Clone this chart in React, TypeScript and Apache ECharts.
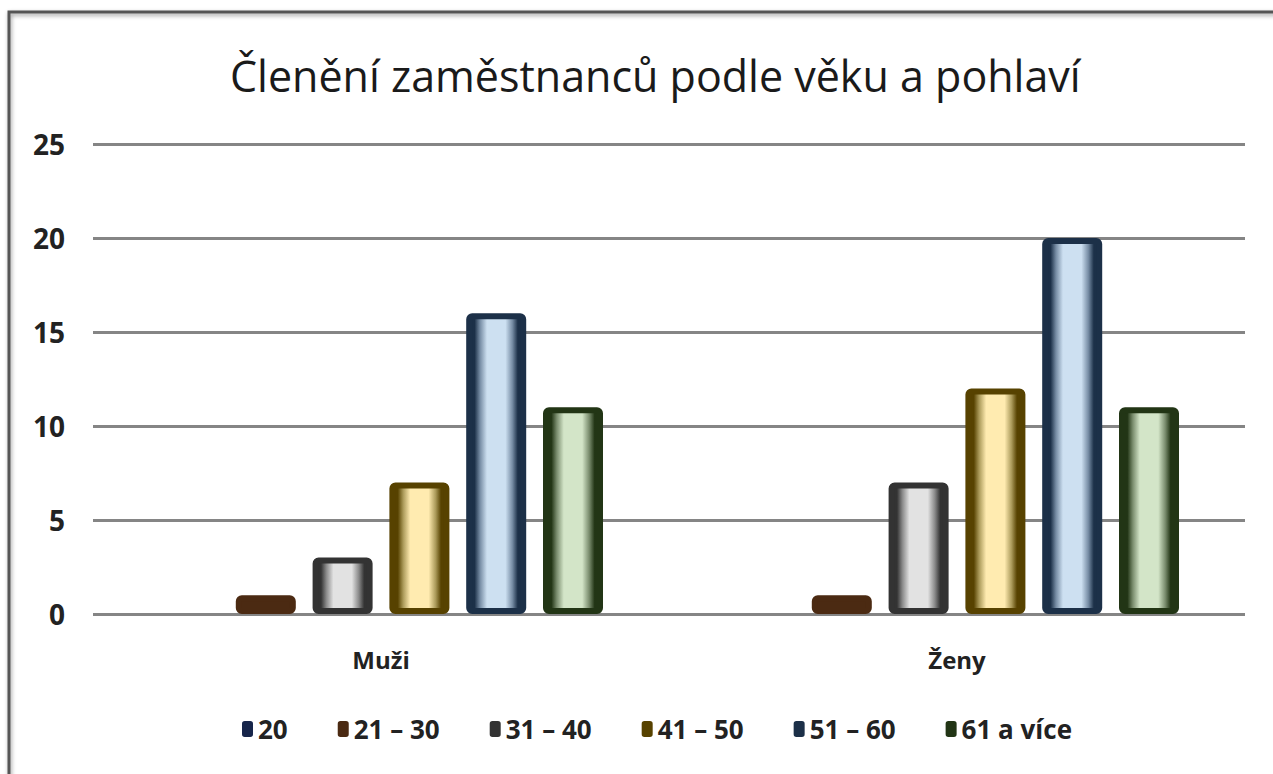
import React, { useEffect, useRef } from "react";
import * as echarts from "echarts";

const titleText = "Členění zaměstnanců podle věku a pohlaví";
const categories = ["Muži", "Ženy"];
const seriesNames = ["20", "21 – 30", "31 – 40", "41 – 50", "51 – 60", "61 a více"];
const values20 = [0, 0];
const values21_30 = [1, 1];
const values31_40 = [3, 7];
const values41_50 = [7, 12];
const values51_60 = [16, 20];
const values61 = [11, 11];
const seriesValues = [values20, values21_30, values31_40, values41_50, values51_60, values61];
const darkColors = ["#17254a", "#4b2a12", "#333333", "#574200", "#1c3048", "#223515"];
const midColors = ["#7080a0", "#4b2a12", "#8a8a8a", "#ab9a5a", "#768ca4", "#7a8d6e"];
const lightColors = ["#c9d4ea", "#4b2a12", "#e2e2e2", "#ffebb0", "#cde0f1", "#d3e5c8"];

export default function App() {
  const ref = useRef<HTMLDivElement>(null);
  useEffect(() => {
    if (!ref.current) return;
    const chart = echarts.init(ref.current, null, { renderer: "svg" });
    const font = "'Open Sans', 'Noto Sans', sans-serif";
    const series = seriesNames.map((name, i) => ({
      name,
      type: "bar",
      barWidth: 60,
      barGap: "28%",
      itemStyle: {
        color: new echarts.graphic.LinearGradient(0, 0, 1, 0, [
          { offset: 0, color: darkColors[i] },
          { offset: 0.1, color: darkColors[i] },
          { offset: 0.2, color: midColors[i] },
          { offset: 0.33, color: lightColors[i] },
          { offset: 0.67, color: lightColors[i] },
          { offset: 0.8, color: midColors[i] },
          { offset: 0.9, color: darkColors[i] },
          { offset: 1, color: darkColors[i] },
        ]),
        borderColor: darkColors[i],
        borderWidth: 6,
        borderRadius: 3,
      },
      data: seriesValues[i].map((v) =>
        v === 0 ? { value: v, itemStyle: { borderWidth: 0 } } : v
      ),
    }));
    chart.setOption({
      animation: false,
      backgroundColor: "#ffffff",
      title: {
        text: titleText,
        left: 225,
        top: 49,
        textStyle: { fontFamily: font, fontSize: 43, fontWeight: "normal", color: "#1a1a1a" },
      },
      legend: {
        bottom: 27,
        left: 237,
        itemWidth: 11,
        itemHeight: 16,
        itemGap: 50,
        icon: "roundRect",
        data: seriesNames.map((n, i) => ({ name: n, itemStyle: { color: darkColors[i], borderWidth: 0 } })),
        textStyle: { fontFamily: font, fontSize: 26, fontWeight: "bold", color: "#222" },
      },
      grid: { left: 93, right: 28, top: 144, bottom: 160, containLabel: false },
      xAxis: {
        type: "category",
        data: categories,
        axisLine: { show: false },
        axisTick: { show: false },
        axisLabel: { margin: 33, fontFamily: font, fontSize: 24, fontWeight: "bold", color: "#222" },
      },
      yAxis: {
        type: "value",
        min: 0,
        max: 25,
        interval: 5,
        axisLine: { show: false },
        axisTick: { show: false },
        axisLabel: { margin: 28, fontFamily: font, fontSize: 28, fontWeight: "bold", color: "#222" },
        splitLine: { lineStyle: { color: "#858585", width: 3 } },
      },
      graphic: [
        {
          type: "rect",
          shape: { x: 9, y: 12, width: 1400, height: 900 },
          style: {
            fill: "none",
            stroke: "#555555",
            lineWidth: 3,
            shadowColor: "rgba(0,0,0,0.4)",
            shadowBlur: 4,
            shadowOffsetX: 1,
            shadowOffsetY: 2,
          },
          silent: true,
        },
      ],
      series,
    });
    return () => chart.dispose();
  }, []);
  return <div ref={ref} style={{ position: "fixed", left: 0, top: 0, width: 1273, height: 774 }} />;
}
